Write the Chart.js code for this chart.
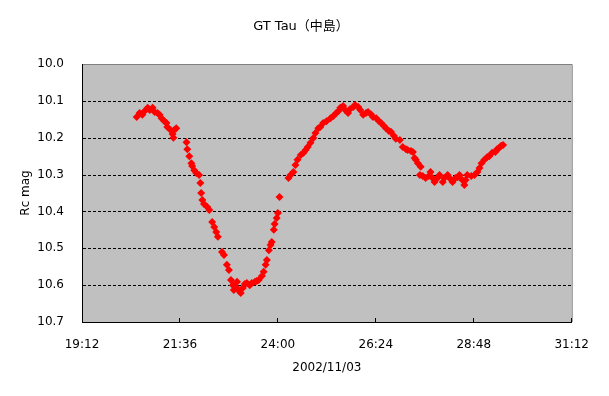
<!DOCTYPE html>
<html>
<head>
<meta charset="utf-8">
<title>GT Tau</title>
<script src="https://cdn.jsdelivr.net/npm/chart.js@4/dist/chart.umd.min.js"></script>
<style>
  body { margin: 0; background: #ffffff; }
  #wrap { width: 609px; height: 396px; }
</style>
</head>
<body>
<div id="wrap"><canvas id="lightCurve" width="609" height="396"></canvas></div>
<script>
// observation time, hours after 2002/11/03 00:00 (UT)
const obsHours = [
  20.54, 20.61, 20.68, 20.73, 20.81, 20.86, 20.93, 20.98, 21.05, 21.10,
  21.15, 21.22, 21.27, 21.29, 21.37, 21.42, 21.44, 21.46, 21.51,
  21.76, 21.78, 21.83, 21.88, 21.90, 21.95, 22.00, 22.07, 22.10, 22.12,
  22.15, 22.19, 22.27, 22.32, 22.39, 22.44, 22.49, 22.53, 22.63, 22.68,
  22.75, 22.80, 22.85, 22.90, 22.92, 22.97, 23.00, 23.05, 23.09, 23.14,
  23.19, 23.24, 23.31, 23.36, 23.44, 23.48, 23.53, 23.61, 23.65, 23.70,
  23.73, 23.78, 23.82, 23.85, 23.90, 23.92, 23.97, 24.00, 24.04,
  24.26, 24.31, 24.38, 24.43, 24.48, 24.56, 24.63, 24.68, 24.73, 24.80,
  24.87, 24.92, 24.99, 25.04, 25.11, 25.19, 25.29, 25.36, 25.43, 25.48,
  25.53, 25.60, 25.65, 25.72, 25.77, 25.85, 25.89, 25.97, 26.02, 26.09,
  26.16, 26.21, 26.28, 26.33, 26.41, 26.48, 26.53, 26.60, 26.65, 26.72,
  26.77, 26.84, 26.89, 26.99, 27.06, 27.14, 27.18, 27.26, 27.31, 27.35,
  27.38, 27.43, 27.50, 27.48, 27.55, 27.62, 27.70, 27.74, 27.79, 27.84,
  27.91, 27.96, 28.04, 28.08, 28.16, 28.23, 28.28, 28.35, 28.40, 28.45,
  28.52, 28.57, 28.60, 28.64, 28.74, 28.82, 28.89, 28.94, 28.99, 29.06,
  29.13, 29.18, 29.25, 29.33, 29.37, 29.42, 29.47, 29.52
];

// Rc magnitude
const rcMag = [
  10.144, 10.133, 10.138, 10.128, 10.119, 10.125, 10.119, 10.130, 10.133, 10.138,
  10.147, 10.155, 10.160, 10.171, 10.179, 10.190, 10.200, 10.179, 10.174,
  10.212, 10.231, 10.250, 10.269, 10.277, 10.288, 10.296, 10.301, 10.323, 10.350,
  10.369, 10.380, 10.388, 10.396, 10.429, 10.442, 10.456, 10.469, 10.510, 10.518,
  10.545, 10.559, 10.586, 10.600, 10.613, 10.605, 10.591, 10.616, 10.621, 10.608,
  10.597, 10.594, 10.600, 10.594, 10.591, 10.589, 10.586, 10.575, 10.564, 10.545,
  10.532, 10.505, 10.491, 10.483, 10.450, 10.434, 10.418, 10.404, 10.361,
  10.309, 10.301, 10.293, 10.274, 10.260, 10.247, 10.241, 10.233, 10.225, 10.214,
  10.201, 10.187, 10.174, 10.171, 10.160, 10.155, 10.147, 10.141, 10.133, 10.128,
  10.119, 10.114, 10.125, 10.133, 10.122, 10.117, 10.111, 10.117, 10.125, 10.138,
  10.133, 10.130, 10.136, 10.144, 10.147, 10.155, 10.160, 10.168, 10.174, 10.182,
  10.184, 10.195, 10.203, 10.206, 10.225, 10.231, 10.233, 10.236, 10.239, 10.255,
  10.260, 10.269, 10.279, 10.301, 10.304, 10.309, 10.304, 10.293, 10.309, 10.320,
  10.309, 10.301, 10.320, 10.309, 10.301, 10.312, 10.320, 10.309, 10.307, 10.301,
  10.315, 10.328, 10.315, 10.301, 10.304, 10.301, 10.293, 10.282, 10.269, 10.260,
  10.252, 10.250, 10.241, 10.239, 10.231, 10.228, 10.222, 10.220
];

const xRange = [19.2, 31.2];   // 19:12 .. 31:12
const xStep = 2.4;             // 2h24m
const yRange = [10.0, 10.7];
const yStep = 0.1;

const fontFamily = '"DejaVu Sans", "Noto Sans CJK JP", sans-serif';

const toClock = hours => {
    const mins = Math.round(hours * 60);
    const h = Math.floor(mins / 60);
    const m = mins % 60;
    return h + ':' + String(m).padStart(2, '0');
};

const points = obsHours.map((t, i) => ({ x: t, y: rcMag[i] }));

// grey plot area, grey frame on top/right, dashed lines at the inner y ticks
const plotBackground = {
    id: 'plotBackground',
    beforeDraw(chart) {
        const { ctx, chartArea: a } = chart;
        ctx.save();
        ctx.fillStyle = '#ffffff';
        ctx.fillRect(0, 0, chart.width, chart.height);
        ctx.fillStyle = '#c0c0c0';
        ctx.fillRect(a.left, a.top, a.width, a.height);
        ctx.strokeStyle = '#808080';
        ctx.lineWidth = 1;
        ctx.beginPath();
        ctx.moveTo(a.left, a.top + 0.5);
        ctx.lineTo(a.right + 0.5, a.top + 0.5);
        ctx.lineTo(a.right + 0.5, a.bottom);
        ctx.stroke();

        // dashed grid
        const yScale = chart.scales.y;
        ctx.strokeStyle = '#000000';
        ctx.setLineDash([3, 2]);
        yScale.ticks.forEach(t => {
            const v = Math.round(t.value * 10) / 10;
            if (v === yRange[0] || v === yRange[1]) return;
            const py = Math.round(yScale.getPixelForValue(t.value)) + 0.5;
            ctx.beginPath();
            ctx.moveTo(a.left + 1, py);
            ctx.lineTo(a.right, py);
            ctx.stroke();
        });
        ctx.restore();
    }
};

document.addEventListener('DOMContentLoaded', function () {
    const ctx = document.getElementById('lightCurve').getContext('2d');
    new Chart(ctx, {
        type: 'scatter',
        data: {
            datasets: [{
                label: 'Rc',
                data: points,
                pointStyle: 'rectRot',
                pointRadius: 4,
                pointBackgroundColor: '#ff0000',
                pointBorderWidth: 0,
                showLine: false
            }]
        },
        options: {
            responsive: false,
            animation: false,
            devicePixelRatio: 1,
            layout: { padding: { left: 0, right: 7, top: 0, bottom: 0 } },
            plugins: {
                legend: { display: false },
                tooltip: { enabled: false },
                title: {
                    display: true,
                    text: 'GT Tau（中島）',
                    color: '#000000',
                    font: { family: fontFamily, size: 13, weight: 'normal' },
                    padding: { top: 18.7, bottom: 29.7 }
                }
            },
            scales: {
                x: {
                    type: 'linear',
                    min: xRange[0],
                    max: xRange[1],
                    afterFit: s => { s.height = 74; },
                    ticks: {
                        stepSize: xStep,
                        color: '#000000',
                        padding: 20,
                        maxRotation: 0,
                        font: { family: fontFamily, size: 12 },
                        callback: v => toClock(v)
                    },
                    grid: { drawOnChartArea: false, drawTicks: true, tickLength: -4, color: '#000000' },
                    border: { display: true, color: '#000000', width: 1 },
                    title: {
                        display: true,
                        text: '2002/11/03',
                        color: '#000000',
                        font: { family: fontFamily, size: 12 },
                        padding: { top: 0, bottom: 21 }
                    }
                },
                y: {
                    reverse: true,
                    min: yRange[0],
                    max: yRange[1],
                    afterFit: s => { s.width = 82; },
                    ticks: {
                        stepSize: yStep,
                        color: '#000000',
                        padding: 18,
                        font: { family: fontFamily, size: 12 },
                        callback: v => v.toFixed(1)
                    },
                    grid: { drawOnChartArea: false, drawTicks: false },
                    border: { display: true, color: '#000000', width: 1 },
                    title: {
                        display: true,
                        text: 'Rc mag',
                        color: '#000000',
                        font: { family: fontFamily, size: 12 },
                        padding: { top: 19, bottom: 0 }
                    }
                },
                y2: {
                    position: 'right',
                    display: true,
                    afterFit: s => { s.width = 27; },
                    ticks: { display: false },
                    grid: { display: false, drawTicks: false },
                    border: { display: false }
                }
            }
        },
        plugins: [plotBackground]
    });
});
</script>
</body>
</html>
